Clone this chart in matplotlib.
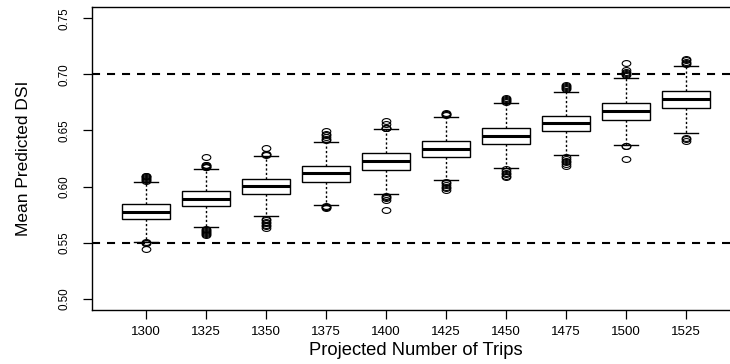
import numpy as np
import matplotlib
matplotlib.use("Agg")
import matplotlib.pyplot as plt
from matplotlib.path import Path
from matplotlib.transforms import Affine2D

plt.rcParams['font.family'] = ['Liberation Sans', 'DejaVu Sans']
plt.rcParams['lines.scale_dashes'] = False

trips = [1300, 1325, 1350, 1375, 1400, 1425, 1450, 1475, 1500, 1525]

# box stats
q1 = [0.5711, 0.5828, 0.5935, 0.6045, 0.6149, 0.6265, 0.6378, 0.6491, 0.6596, 0.6696]
med = [0.5777, 0.5893, 0.6003, 0.6119, 0.6226, 0.6339, 0.6449, 0.6563, 0.6670, 0.6780]
q3 = [0.5846, 0.5962, 0.6069, 0.6187, 0.6297, 0.6408, 0.6524, 0.6631, 0.6747, 0.6851]
whislo = [0.5506, 0.5637, 0.5735, 0.5839, 0.5931, 0.6060, 0.6161, 0.6283, 0.6369, 0.6473]
whishi = [0.6042, 0.6152, 0.6268, 0.6396, 0.6515, 0.6619, 0.6744, 0.6842, 0.6970, 0.7074]

fliers = [
    [0.6050, 0.6058, 0.6066, 0.6074, 0.6082, 0.6090, 0.6096,
     0.5503, 0.5499, 0.5495, 0.5440],
    [0.6170, 0.6176, 0.6183, 0.6190, 0.6196, 0.6265,
     0.5625, 0.5615, 0.5605, 0.5595, 0.5585, 0.5577, 0.5571],
    [0.6280, 0.6286, 0.6290, 0.6345,
     0.5714, 0.5700, 0.5688, 0.5675, 0.5660, 0.5648, 0.5634],
    [0.6411, 0.6425, 0.6440, 0.6455, 0.6470, 0.6491,
     0.5830, 0.5822, 0.5814, 0.5806],
    [0.6518, 0.6522, 0.6526, 0.6554, 0.6583,
     0.5915, 0.5905, 0.5895, 0.5884, 0.5795],
    [0.6640, 0.6645, 0.6650, 0.6655,
     0.6045, 0.6030, 0.6015, 0.6000, 0.5985, 0.5973],
    [0.6752, 0.6762, 0.6772, 0.6782, 0.6790,
     0.6156, 0.6140, 0.6125, 0.6110, 0.6098, 0.6089],
    [0.6866, 0.6875, 0.6884, 0.6893, 0.6902,
     0.6259, 0.6245, 0.6230, 0.6215, 0.6200, 0.6187],
    [0.6991, 0.7000, 0.7010, 0.7022, 0.7036, 0.7104,
     0.6362, 0.6358, 0.6247],
    [0.7089, 0.7100, 0.7112, 0.7124, 0.7134,
     0.6433, 0.6420, 0.6406],
]

ref_lines = [0.55, 0.70]
yticks = [0.50, 0.55, 0.60, 0.65, 0.70, 0.75]

stats = []
for i in range(len(trips)):
    stats.append(dict(q1=q1[i], med=med[i], q3=q3[i], whislo=whislo[i],
                      whishi=whishi[i], fliers=fliers[i]))

# flattened open circle like the stretched original
ell = Path.unit_circle().transformed(Affine2D().scale(1.0, 0.68))

fig = plt.figure(figsize=(7.3, 3.64), dpi=100)
ax = fig.add_axes([92 / 730, 54 / 364, 648 / 730, 303 / 364])

pos = np.arange(1, len(trips) + 1)
ax.bxp(stats, positions=pos, widths=0.8, patch_artist=True,
       boxprops=dict(facecolor='white', edgecolor='black', linewidth=1.0),
       medianprops=dict(color='black', linewidth=2.2, solid_capstyle='butt'),
       whiskerprops=dict(color='black', linewidth=1.0, linestyle=(0, (1.6, 1.6))),
       capprops=dict(color='black', linewidth=1.0),
       flierprops=dict(marker=ell, markersize=6.2, markerfacecolor='none',
                       markeredgecolor='black', markeredgewidth=0.8))

for yv in ref_lines:
    ax.axhline(yv, color='black', linewidth=1.5, linestyle=(0, (5.8, 5.0)), zorder=0.5)

ax.set_xlim(0.1, 10.9)
ax.set_ylim(0.49, 0.76)
ax.set_xticks(pos)
ax.set_xticklabels([str(t) for t in trips], fontsize=9.6)
ax.set_yticks(yticks)
ax.set_yticklabels(['%.2f' % v for v in yticks], fontsize=8.4, rotation=90, va='center')
ax.tick_params(axis='both', length=6.5, width=0.9, color='black')
ax.tick_params(axis='x', pad=5)
ax.tick_params(axis='y', pad=9)
for s in ax.spines.values():
    s.set_linewidth(1.0)

ax.set_xlabel('Projected Number of Trips', fontsize=13.2, labelpad=3)
ax.set_ylabel('Mean Predicted DSI', fontsize=12.5)
ax.yaxis.set_label_coords(-61 / 648, 0.5)

fig.savefig('out.png', dpi=100)
